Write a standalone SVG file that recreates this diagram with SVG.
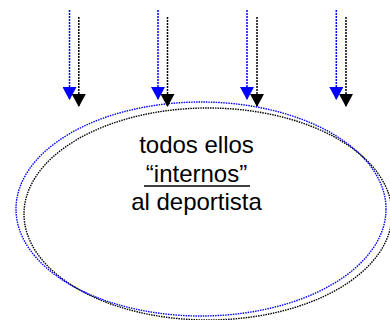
<svg xmlns="http://www.w3.org/2000/svg" width="390" height="320" viewBox="0 0 390 320">
<style>
.blue{stroke:#0000ff;stroke-width:1.5;stroke-dasharray:2 1;fill:none}
.black{stroke:#000;stroke-width:1.5;stroke-dasharray:2 1;fill:none}
.eb{stroke:#0000ff;stroke-width:1.4;stroke-dasharray:1.5 1;fill:none}
.ek{stroke:#000;stroke-width:1.4;stroke-dasharray:1.5 1;fill:none}
.t{font-family:"Liberation Sans",Arial,sans-serif;font-size:24px;fill:#000;text-anchor:middle}
</style>
<defs>
<marker id="ab" markerUnits="userSpaceOnUse" markerWidth="14" markerHeight="14" refX="6.5" refY="12" viewBox="0 0 13 12"><path d="M0,0 L13,0 L6.5,12 Z" fill="#0000ff"/></marker>
<marker id="ak" markerUnits="userSpaceOnUse" markerWidth="14" markerHeight="14" refX="6.5" refY="12" viewBox="0 0 13 12"><path d="M0,0 L13,0 L6.5,12 Z" fill="#000"/></marker>
</defs>
<g id="ellipse-node">
<ellipse class="ek" cx="208" cy="214" rx="184" ry="106"/>
<ellipse class="eb" cx="201" cy="209" rx="185" ry="107"/>
<text class="t" x="196.5" y="153">todos ellos</text>
<text class="t" x="196.5" y="182">“internos”</text>
<line x1="144" y1="186" x2="250" y2="186" stroke="#000" stroke-width="1.5"/>
<text class="t" x="196.5" y="210">al deportista</text>
</g>
<g id="connectors">
<path class="blue" d="M69.5,10 V100" marker-end="url(#ab)"/>
<path class="black" d="M78.8,17 V107" marker-end="url(#ak)"/>
<path class="blue" d="M158,10 V100" marker-end="url(#ab)"/>
<path class="black" d="M167.5,17 V107" marker-end="url(#ak)"/>
<path class="blue" d="M247,10 V100" marker-end="url(#ab)"/>
<path class="black" d="M257,17 V107" marker-end="url(#ak)"/>
<path class="blue" d="M336.3,10 V100" marker-end="url(#ab)"/>
<path class="black" d="M346,17 V107" marker-end="url(#ak)"/>
</g>
</svg>
